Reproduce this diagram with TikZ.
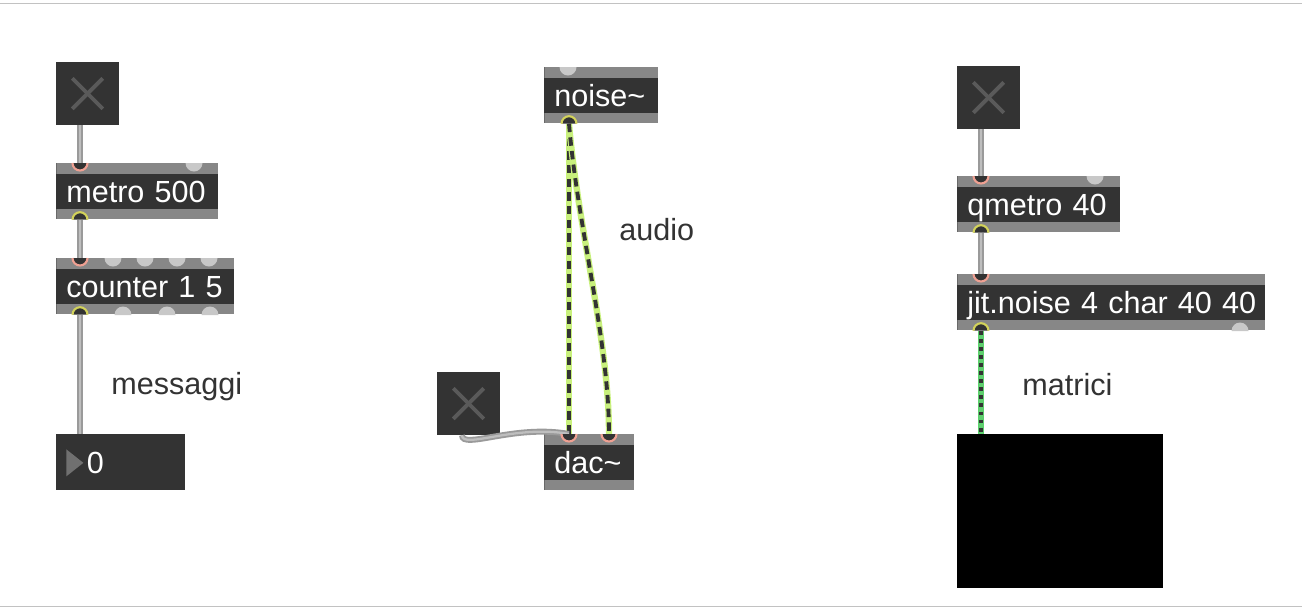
\documentclass[tikz,border=0pt]{standalone}
\usepackage{fontspec}
\setmainfont{Liberation Sans}
\usetikzlibrary{positioning}
\definecolor{maxdark}{HTML}{333333}
\definecolor{maxstrip}{HTML}{878787}
\definecolor{maxport}{HTML}{C8C8C8}
\definecolor{inpink}{HTML}{EFA092}
\definecolor{outyellow}{HTML}{D2D25A}
\definecolor{xgray}{HTML}{5A5A5A}
\definecolor{numarrow}{HTML}{707070}
\definecolor{cordgray}{HTML}{9A9A9A}
\definecolor{cordlight}{HTML}{BEBEBE}
\definecolor{audiogreen}{HTML}{C8F07C}
\definecolor{jitgreen}{HTML}{5ECF6E}
\definecolor{frameline}{HTML}{C2C2C2}
\newcommand\maxfont{\fontsize{17.4pt}{20pt}\selectfont}
\tikzset{
  maxbox/.style={anchor=north west, fill=maxdark, text=white, font=\maxfont,
    inner xsep=0.2cm, inner ysep=0pt, minimum height=1.12cm,
    text height=12.5pt, text depth=0pt, align=left, text width=#1,
    path picture={
      \fill[maxstrip] (path picture bounding box.north west)
        rectangle ([yshift=-0.21cm]path picture bounding box.north east);
      \fill[maxstrip] (path picture bounding box.south west)
        rectangle ([yshift=0.2cm]path picture bounding box.south east);}},
  maxtoggle/.style={anchor=north west, fill=maxdark, minimum size=1.25cm, inner sep=0pt,
    path picture={
      \draw[xgray, line width=2.2pt]
        ([shift={(0.32cm,-0.32cm)}]path picture bounding box.north west)
        -- ([shift={(-0.32cm,0.32cm)}]path picture bounding box.south east);
      \draw[xgray, line width=2.2pt]
        ([shift={(-0.32cm,-0.32cm)}]path picture bounding box.north east)
        -- ([shift={(0.32cm,0.32cm)}]path picture bounding box.south west);}},
  numbox/.style={anchor=north west, fill=maxdark, text=white, font=\maxfont,
    inner xsep=0.61cm, inner ysep=0pt, minimum height=1.12cm, text width=1.36cm,
    text height=12.5pt, text depth=0pt, align=left,
    path picture={
      \fill[numarrow] ([shift={(0.2cm,-0.3cm)}]path picture bounding box.north west)
        -- ++(0.34cm,-0.27cm) -- ++(-0.34cm,-0.27cm) -- cycle;}},
  comment/.style={anchor=base west, inner sep=0pt, text=maxdark, font=\maxfont},
  cord/.style={draw=cordgray, line width=3.4pt, postaction={draw=cordlight, line width=1.3pt}},
  audiocord/.style={draw=audiogreen, line width=3.6pt,
    postaction={draw=maxdark, line width=2.2pt, dash pattern=on 4.8pt off 3pt}},
  jitcord/.style={draw=jitgreen, line width=3.4pt,
    postaction={draw=maxdark, line width=2pt, dash pattern=on 2.2pt off 2.4pt}},
}
\begin{document}
\begin{tikzpicture}[x=0.02cm,y=-0.02cm]
  \useasboundingbox (0,0) rectangle (1302,610);
  \draw[frameline, line width=1pt] (0,3.5) -- (1302,3.5);
  \draw[frameline, line width=1pt] (0,606.5) -- (1302,606.5);

  % messaggi
  \node[maxtoggle] (tgla) at (56,62) {};
  \node[maxbox=2.84cm] (metro) at (56,163) {metro 500};
  \node[maxbox=3.16cm] (counter) at (56,258) {counter 1 5};
  \node[numbox] (num) at (56,434) {0};
  \node[comment] (msglabel) at (111,394) {messaggi};

  % audio
  \node[maxbox=1.88cm] (noise) at (544,67) {noise\textasciitilde};
  \node[maxtoggle] (tglb) at (437,372) {};
  \node[maxbox=1.40cm] (dac) at (544,434) {dac\textasciitilde};
  \node[comment] (audiolabel) at (619,240) {audio};

  % matrici
  \node[maxtoggle] (tglc) at (957,66) {};
  \node[maxbox=2.86cm] (qmetro) at (957,176) {qmetro 40};
  \node[maxbox=5.76cm] (jit) at (957,274) {\mbox{jit.noise 4 char 40 40}};
  \node[anchor=north west, fill=black, minimum width=4.12cm, minimum height=3.08cm,
    inner sep=0pt] (pwin) at (957,434) {};
  \node[comment] (matlabel) at (1022,395) {matrici};

  % ports
  \coordinate (metroin) at ([xshift=0.48cm]metro.north west);
  \coordinate (metroout) at ([xshift=0.48cm]metro.south west);
  \coordinate (counterin) at ([xshift=0.48cm]counter.north west);
  \coordinate (counterout) at ([xshift=0.48cm]counter.south west);
  \coordinate (noiseout) at ([xshift=0.5cm]noise.south west);
  \coordinate (dacinl) at ([xshift=0.5cm]dac.north west);
  \coordinate (dacinr) at ([xshift=1.3cm]dac.north west);
  \coordinate (tglbout) at ([xshift=0.5cm]tglb.south west);
  \coordinate (qmetroin) at ([xshift=0.48cm]qmetro.north west);
  \coordinate (qmetroout) at ([xshift=0.48cm]qmetro.south west);
  \coordinate (jitin) at ([xshift=0.48cm]jit.north west);
  \coordinate (jitout) at ([xshift=0.48cm]jit.south west);

  % cords
  \draw[cord] (tgla.south -| metroin) -- (metroin);
  \draw[cord] (metroout) -- (counterin);
  \draw[cord] (counterout) -- (num.north -| counterout);
  \draw[audiocord] (noiseout) -- (dacinl);
  \draw[audiocord] (noiseout) .. controls (578,230) and (609,340) .. (dacinr);
  \draw[cord] (tglbout) .. controls (462,450) and (515,424) .. (dacinl);
  \draw[cord] (tglc.south -| qmetroin) -- (qmetroin);
  \draw[cord] (qmetroout) -- (jitin);
  \draw[jitcord] (jitout) -- (pwin.north -| jitout);

  \foreach \p in {metroin,counterin,dacinl,dacinr,qmetroin,jitin} {
    \fill[maxdark] ([xshift=-0.15cm]\p) arc[start angle=180, end angle=360, radius=0.15cm] -- cycle;
    \draw[inpink, line width=1.2pt] ([xshift=-0.15cm]\p) arc[start angle=180, end angle=360, radius=0.15cm];
  }
  \foreach \p in {metroout,counterout,noiseout,qmetroout,jitout} {
    \fill[maxdark] ([xshift=-0.15cm]\p) arc[start angle=180, end angle=0, radius=0.15cm] -- cycle;
    \draw[outyellow, line width=1.2pt] ([xshift=-0.15cm]\p) arc[start angle=180, end angle=0, radius=0.15cm];
  }
  \foreach \x/\y in {194/163, 113/258, 145/258, 177/258, 209/258, 568/67, 1095/176}
    \fill[maxport] (\x,\y) ++(-0.17cm,0) arc[start angle=180, end angle=360, radius=0.17cm] -- cycle;
  \foreach \x/\y in {123/315, 167/315, 210/315, 1240/331}
    \fill[maxport] (\x,\y) ++(-0.17cm,0) arc[start angle=180, end angle=0, radius=0.17cm] -- cycle;
\end{tikzpicture}
\end{document}
